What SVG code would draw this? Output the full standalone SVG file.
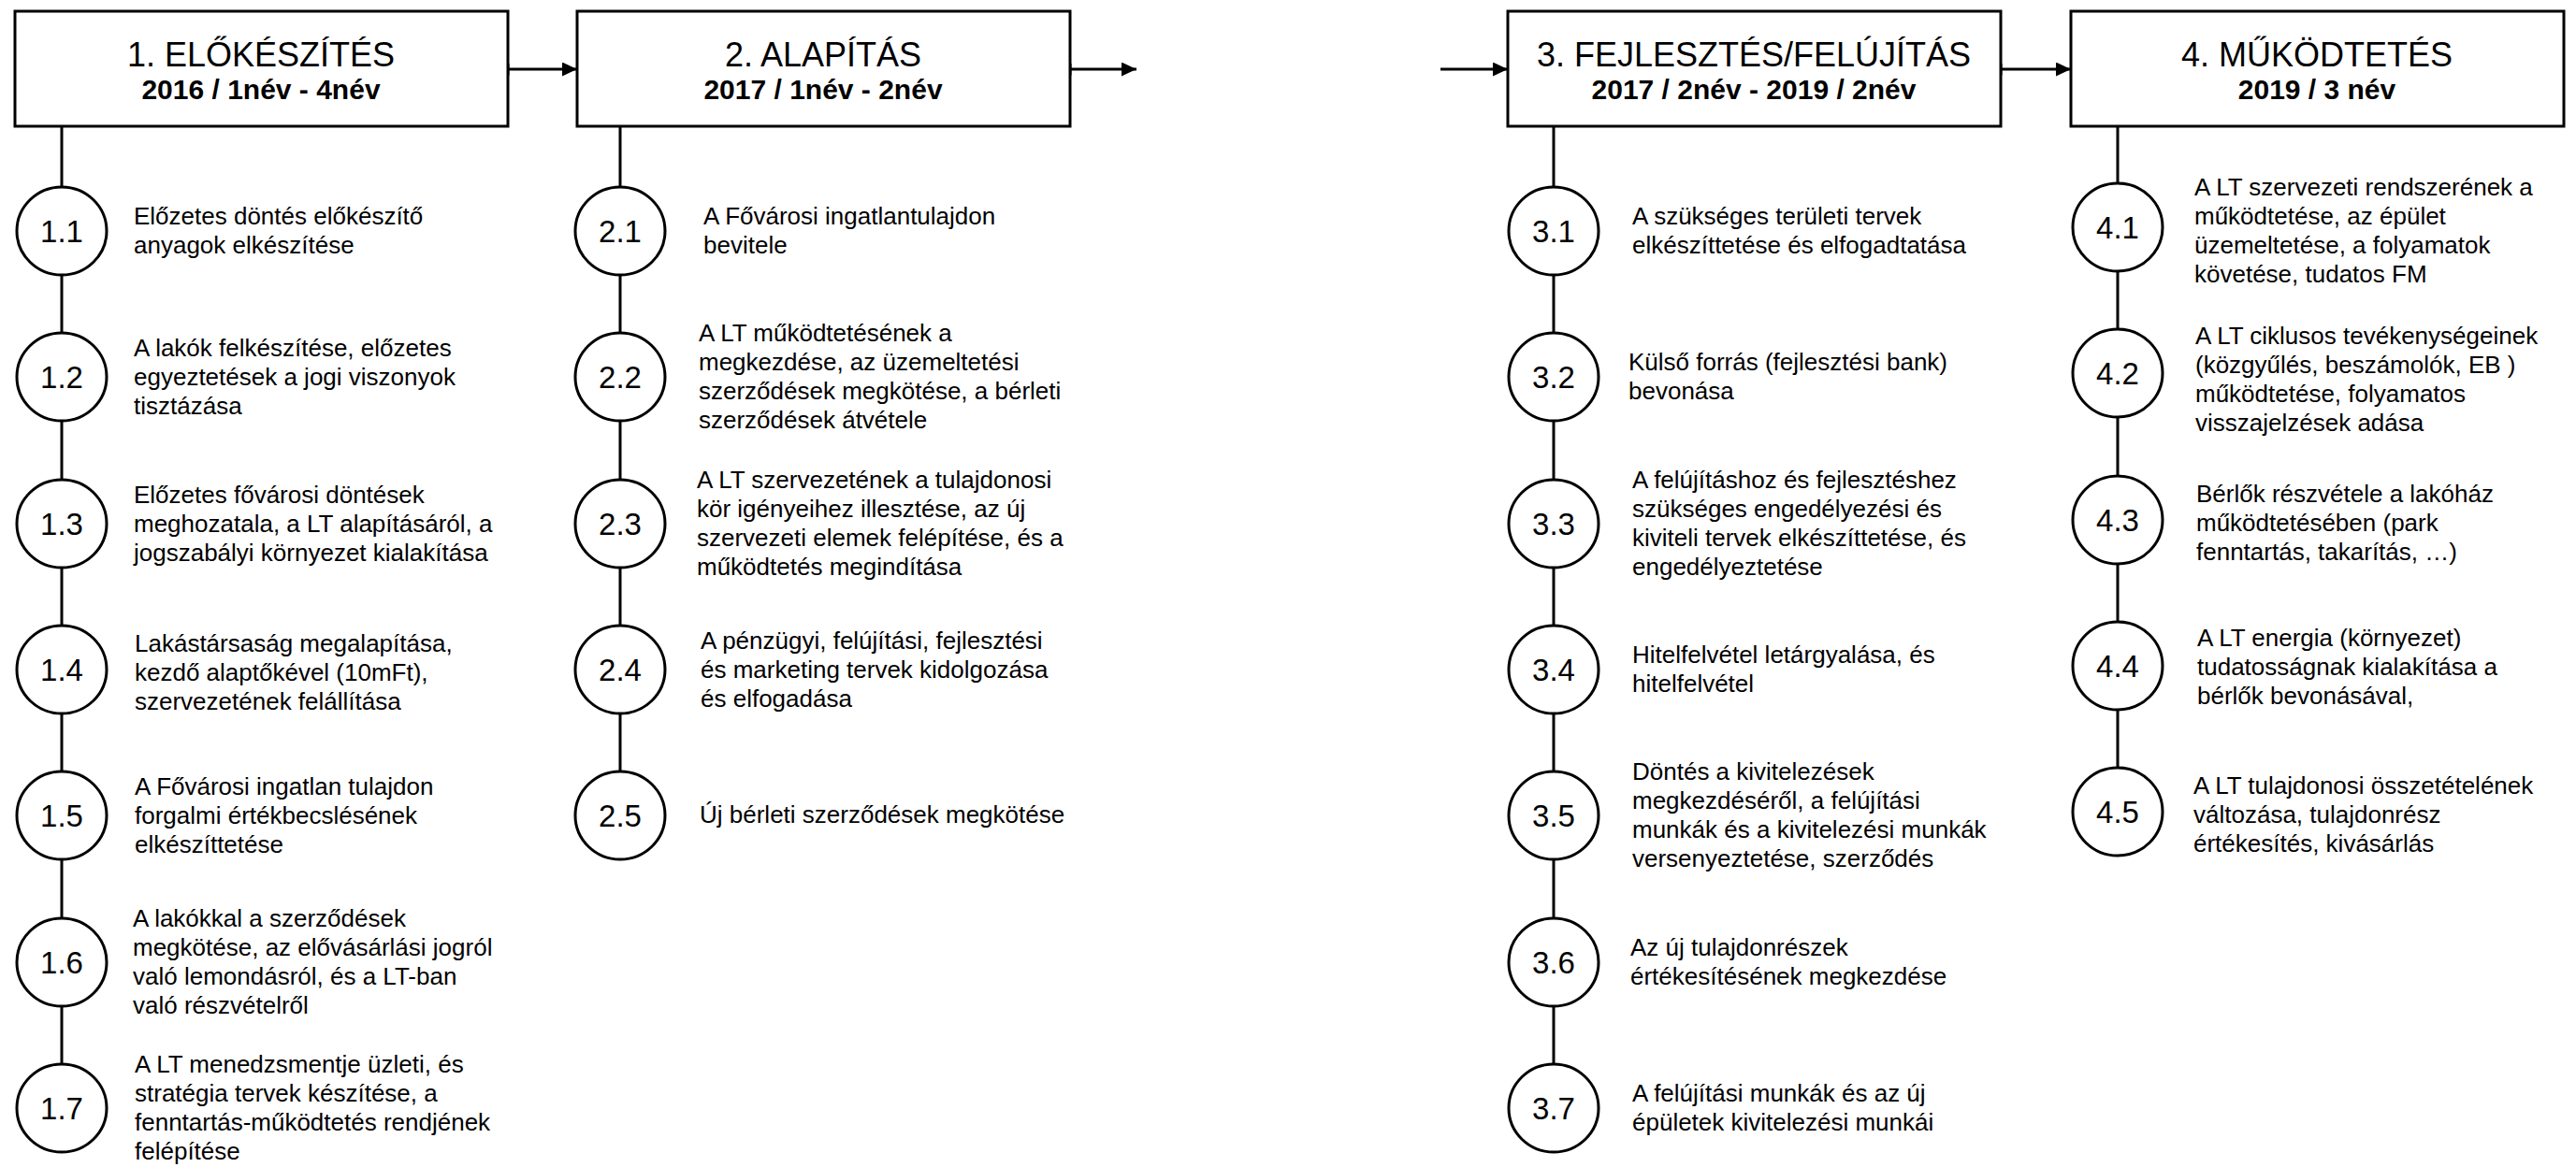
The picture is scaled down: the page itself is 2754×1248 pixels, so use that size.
<svg xmlns="http://www.w3.org/2000/svg" width="2754" height="1248" viewBox="0 0 2754 1248">
<defs>
<marker id="ah" markerUnits="userSpaceOnUse" markerWidth="17" markerHeight="16" refX="16" refY="7.5" orient="auto"><path d="M0,0 L16,7.5 L0,15 z" fill="#000"/></marker>
<marker id="tick" markerUnits="userSpaceOnUse" markerWidth="4" markerHeight="14" refX="1.5" refY="6.5" orient="auto"><rect x="0" y="0" width="3" height="13" fill="#000"/></marker>
</defs>
<style>
.box{fill:#fff;stroke:#000;stroke-width:3}
.c{fill:#fff;stroke:#000;stroke-width:3}
.ln{stroke:#000;stroke-width:3;fill:none}
.ttl{font-family:"Liberation Sans",Arial,sans-serif;font-size:36px;text-anchor:middle;fill:#000}
.sub{font-family:"Liberation Sans",Arial,sans-serif;font-size:30px;font-weight:bold;text-anchor:middle;fill:#000}
.num{font-family:"Liberation Sans",Arial,sans-serif;font-size:33px;text-anchor:middle;fill:#000}
.t{font-family:"Liberation Sans",Arial,sans-serif;font-size:26px;fill:#000}
</style>
<rect width="2754" height="1248" fill="#fff"/>
<g id="connectors">
<line class="ln" x1="543" y1="74" x2="617" y2="74" marker-start="url(#tick)" marker-end="url(#ah)"/>
<line class="ln" x1="1144" y1="74" x2="1215" y2="74" marker-start="url(#tick)" marker-end="url(#ah)"/>
<line class="ln" x1="1540" y1="74" x2="1612" y2="74" marker-end="url(#ah)"/>
<line class="ln" x1="2139" y1="74" x2="2214" y2="74" marker-start="url(#tick)" marker-end="url(#ah)"/>
<path class="ln" d="M66,135 V200 M66,294 V356 M66,450 V513 M66,607 V669 M66,763 V825 M66,919 V982 M66,1076 V1138"/>
<path class="ln" d="M663,135 V200 M663,294 V356 M663,450 V513 M663,607 V669 M663,763 V825"/>
<path class="ln" d="M1661,135 V200 M1661,294 V356 M1661,450 V513 M1661,607 V669 M1661,763 V825 M1661,919 V982 M1661,1076 V1138"/>
<path class="ln" d="M2264,135 V196 M2264,290 V352 M2264,446 V509 M2264,603 V665 M2264,759 V821"/>
</g>
<g id="phase1"><rect class="box" x="16" y="12" width="527" height="123"/><text class="ttl" x="279" y="71">1. ELŐKÉSZÍTÉS</text><text class="sub" x="279" y="106">2016 / 1név - 4név</text></g>
<g id="phase2"><rect class="box" x="617" y="12" width="527" height="123"/><text class="ttl" x="880" y="71">2. ALAPÍTÁS</text><text class="sub" x="880" y="106">2017 / 1név - 2név</text></g>
<g id="phase3"><rect class="box" x="1612" y="12" width="527" height="123"/><text class="ttl" x="1875" y="71">3. FEJLESZTÉS/FELÚJÍTÁS</text><text class="sub" x="1875" y="106">2017 / 2név - 2019 / 2név</text></g>
<g id="phase4"><rect class="box" x="2214" y="12" width="527" height="123"/><text class="ttl" x="2477" y="71">4. MŰKÖDTETÉS</text><text class="sub" x="2477" y="106">2019 / 3 név</text></g>

<g id="s1-1"><ellipse class="c" cx="66" cy="247" rx="48" ry="47"/><text class="num" x="66" y="259">1.1</text><text class="t" x="143" y="240">Előzetes döntés előkészítő</text><text class="t" x="143" y="271">anyagok elkészítése</text></g>
<g id="s1-2"><ellipse class="c" cx="66" cy="403" rx="48" ry="47"/><text class="num" x="66" y="415">1.2</text><text class="t" x="143" y="381">A lakók felkészítése, előzetes</text><text class="t" x="143" y="412">egyeztetések a jogi viszonyok</text><text class="t" x="143" y="443">tisztázása</text></g>
<g id="s1-3"><ellipse class="c" cx="66" cy="560" rx="48" ry="47"/><text class="num" x="66" y="572">1.3</text><text class="t" x="143" y="538">Előzetes fővárosi döntések</text><text class="t" x="143" y="569">meghozatala, a LT alapításáról, a</text><text class="t" x="143" y="600">jogszabályi környezet kialakítása</text></g>
<g id="s1-4"><ellipse class="c" cx="66" cy="716" rx="48" ry="47"/><text class="num" x="66" y="728">1.4</text><text class="t" x="144" y="697">Lakástársaság megalapítása,</text><text class="t" x="144" y="728">kezdő alaptőkével (10mFt),</text><text class="t" x="144" y="759">szervezetének felállítása</text></g>
<g id="s1-5"><ellipse class="c" cx="66" cy="872" rx="48" ry="47"/><text class="num" x="66" y="884">1.5</text><text class="t" x="144" y="850">A Fővárosi ingatlan tulajdon</text><text class="t" x="144" y="881">forgalmi értékbecslésének</text><text class="t" x="144" y="912">elkészíttetése</text></g>
<g id="s1-6"><ellipse class="c" cx="66" cy="1029" rx="48" ry="47"/><text class="num" x="66" y="1041">1.6</text><text class="t" x="142" y="991">A lakókkal a szerződések</text><text class="t" x="142" y="1022">megkötése, az elővásárlási jogról</text><text class="t" x="142" y="1053">való lemondásról, és a LT-ban</text><text class="t" x="142" y="1084">való részvételről</text></g>
<g id="s1-7"><ellipse class="c" cx="66" cy="1185" rx="48" ry="47"/><text class="num" x="66" y="1197">1.7</text><text class="t" x="144" y="1147">A LT menedzsmentje üzleti, és</text><text class="t" x="144" y="1178">stratégia tervek készítése, a</text><text class="t" x="144" y="1209">fenntartás-működtetés rendjének</text><text class="t" x="144" y="1240">felépítése</text></g>

<g id="s2-1"><ellipse class="c" cx="663" cy="247" rx="48" ry="47"/><text class="num" x="663" y="259">2.1</text><text class="t" x="752" y="240">A Fővárosi ingatlantulajdon</text><text class="t" x="752" y="271">bevitele</text></g>
<g id="s2-2"><ellipse class="c" cx="663" cy="403" rx="48" ry="47"/><text class="num" x="663" y="415">2.2</text><text class="t" x="747" y="365">A LT működtetésének a</text><text class="t" x="747" y="396">megkezdése, az üzemeltetési</text><text class="t" x="747" y="427">szerződések megkötése, a bérleti</text><text class="t" x="747" y="458">szerződések átvétele</text></g>
<g id="s2-3"><ellipse class="c" cx="663" cy="560" rx="48" ry="47"/><text class="num" x="663" y="572">2.3</text><text class="t" x="745" y="522">A LT szervezetének a tulajdonosi</text><text class="t" x="745" y="553">kör igényeihez illesztése, az új</text><text class="t" x="745" y="584">szervezeti elemek felépítése, és a</text><text class="t" x="745" y="615">működtetés megindítása</text></g>
<g id="s2-4"><ellipse class="c" cx="663" cy="716" rx="48" ry="47"/><text class="num" x="663" y="728">2.4</text><text class="t" x="749" y="694">A pénzügyi, felújítási, fejlesztési</text><text class="t" x="749" y="725">és marketing tervek kidolgozása</text><text class="t" x="749" y="756">és elfogadása</text></g>
<g id="s2-5"><ellipse class="c" cx="663" cy="872" rx="48" ry="47"/><text class="num" x="663" y="884">2.5</text><text class="t" x="748" y="880">Új bérleti szerződések megkötése</text></g>

<g id="s3-1"><ellipse class="c" cx="1661" cy="247" rx="48" ry="47"/><text class="num" x="1661" y="259">3.1</text><text class="t" x="1745" y="240">A szükséges területi tervek</text><text class="t" x="1745" y="271">elkészíttetése és elfogadtatása</text></g>
<g id="s3-2"><ellipse class="c" cx="1661" cy="403" rx="48" ry="47"/><text class="num" x="1661" y="415">3.2</text><text class="t" x="1741" y="396">Külső forrás (fejlesztési bank)</text><text class="t" x="1741" y="427">bevonása</text></g>
<g id="s3-3"><ellipse class="c" cx="1661" cy="560" rx="48" ry="47"/><text class="num" x="1661" y="572">3.3</text><text class="t" x="1745" y="522">A felújításhoz és fejlesztéshez</text><text class="t" x="1745" y="553">szükséges engedélyezési és</text><text class="t" x="1745" y="584">kiviteli tervek elkészíttetése, és</text><text class="t" x="1745" y="615">engedélyeztetése</text></g>
<g id="s3-4"><ellipse class="c" cx="1661" cy="716" rx="48" ry="47"/><text class="num" x="1661" y="728">3.4</text><text class="t" x="1745" y="709">Hitelfelvétel letárgyalása, és</text><text class="t" x="1745" y="740">hitelfelvétel</text></g>
<g id="s3-5"><ellipse class="c" cx="1661" cy="872" rx="48" ry="47"/><text class="num" x="1661" y="884">3.5</text><text class="t" x="1745" y="834">Döntés a kivitelezések</text><text class="t" x="1745" y="865">megkezdéséről, a felújítási</text><text class="t" x="1745" y="896">munkák és a kivitelezési munkák</text><text class="t" x="1745" y="927">versenyeztetése, szerződés</text></g>
<g id="s3-6"><ellipse class="c" cx="1661" cy="1029" rx="48" ry="47"/><text class="num" x="1661" y="1041">3.6</text><text class="t" x="1743" y="1022">Az új tulajdonrészek</text><text class="t" x="1743" y="1053">értékesítésének megkezdése</text></g>
<g id="s3-7"><ellipse class="c" cx="1661" cy="1185" rx="48" ry="47"/><text class="num" x="1661" y="1197">3.7</text><text class="t" x="1745" y="1178">A felújítási munkák és az új</text><text class="t" x="1745" y="1209">épületek kivitelezési munkái</text></g>

<g id="s4-1"><ellipse class="c" cx="2264" cy="243" rx="48" ry="47"/><text class="num" x="2264" y="255">4.1</text><text class="t" x="2346" y="209">A LT szervezeti rendszerének a</text><text class="t" x="2346" y="240">működtetése, az épület</text><text class="t" x="2346" y="271">üzemeltetése, a folyamatok</text><text class="t" x="2346" y="302">követése, tudatos FM</text></g>
<g id="s4-2"><ellipse class="c" cx="2264" cy="399" rx="48" ry="47"/><text class="num" x="2264" y="411">4.2</text><text class="t" x="2347" y="368">A LT ciklusos tevékenységeinek</text><text class="t" x="2347" y="399">(közgyűlés, beszámolók, EB )</text><text class="t" x="2347" y="430">működtetése, folyamatos</text><text class="t" x="2347" y="461">visszajelzések adása</text></g>
<g id="s4-3"><ellipse class="c" cx="2264" cy="556" rx="48" ry="47"/><text class="num" x="2264" y="568">4.3</text><text class="t" x="2348" y="537">Bérlők részvétele a lakóház</text><text class="t" x="2348" y="568">működtetésében (park</text><text class="t" x="2348" y="599">fenntartás, takarítás, …)</text></g>
<g id="s4-4"><ellipse class="c" cx="2264" cy="712" rx="48" ry="47"/><text class="num" x="2264" y="724">4.4</text><text class="t" x="2349" y="691">A LT energia (környezet)</text><text class="t" x="2349" y="722">tudatosságnak kialakítása a</text><text class="t" x="2349" y="753">bérlők bevonásával,</text></g>
<g id="s4-5"><ellipse class="c" cx="2264" cy="868" rx="48" ry="47"/><text class="num" x="2264" y="880">4.5</text><text class="t" x="2345" y="849">A LT tulajdonosi összetételének</text><text class="t" x="2345" y="880">változása, tulajdonrész</text><text class="t" x="2345" y="911">értékesítés, kivásárlás</text></g>
</svg>
